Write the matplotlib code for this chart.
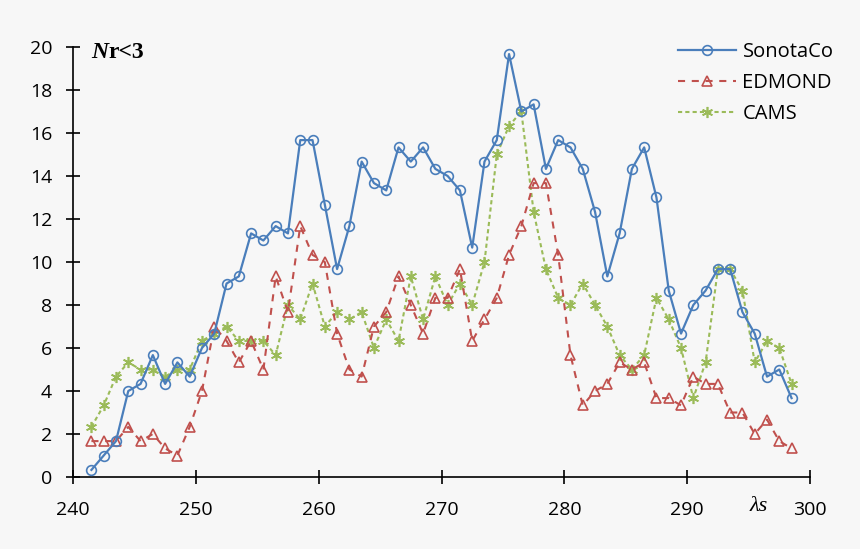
import numpy as np
import matplotlib.pyplot as plt


# solar longitude (centre of each 1 degree bin)
lam = np.arange(241.5, 299, 1.0)

sonotaco = [0.33, 1.0, 1.67, 4.0, 4.33, 5.67, 4.33, 5.33, 4.67, 6.0,
            6.67, 9.0, 9.33, 11.33, 11.0, 11.67, 11.33, 15.67, 15.67, 12.67,
            9.67, 11.67, 14.67, 13.67, 13.33, 15.33, 14.67, 15.33, 14.33, 14.0,
            13.33, 10.67, 14.67, 15.67, 19.67, 17.0, 17.33, 14.33, 15.67, 15.33,
            14.33, 12.33, 9.33, 11.33, 14.33, 15.33, 13.0, 8.67, 6.67, 8.0,
            8.67, 9.67, 9.67, 7.67, 6.67, 4.67, 5.0, 3.67]

edmond = [1.67, 1.67, 1.67, 2.33, 1.67, 2.0, 1.33, 1.0, 2.33, 4.0,
          7.0, 6.33, 5.33, 6.33, 5.0, 9.33, 7.67, 11.67, 10.33, 10.0,
          6.67, 5.0, 4.67, 7.0, 7.67, 9.33, 8.0, 6.67, 8.33, 8.33,
          9.67, 6.33, 7.33, 8.33, 10.33, 11.67, 13.67, 13.67, 10.33, 5.67,
          3.33, 4.0, 4.33, 5.33, 5.0, 5.33, 3.67, 3.67, 3.33, 4.67,
          4.33, 4.33, 3.0, 3.0, 2.0, 2.67, 1.67, 1.33]

cams = [2.33, 3.33, 4.67, 5.33, 5.0, 5.0, 4.67, 5.0, 5.0, 6.33,
        6.67, 7.0, 6.33, 6.33, 6.33, 5.67, 8.0, 7.33, 9.0, 7.0,
        7.67, 7.33, 7.67, 6.0, 7.33, 6.33, 9.33, 7.33, 9.33, 8.0,
        9.0, 8.0, 10.0, 15.0, 16.33, 17.0, 12.33, 9.67, 8.33, 8.0,
        9.0, 8.0, 7.0, 5.67, 5.0, 5.67, 8.33, 7.33, 6.0, 3.67,
        5.33, 9.67, 9.67, 8.67, 5.33, 6.33, 6.0, 4.33]

xticks = [240, 250, 260, 270, 280, 290, 300]
yticks = [0, 2, 4, 6, 8, 10, 12, 14, 16, 18, 20]

bg = '#f7f7f7'
fig = plt.figure(figsize=(8.6, 5.49), dpi=100, facecolor=bg)
ax = fig.add_axes([73/860, 1 - 477/549, (810 - 73)/860, (477 - 47)/549])
ax.set_facecolor(bg)

ax.plot(lam, sonotaco, color='#4a7ebb', lw=1.6, marker='o', ms=7, mfc='none',
        mew=1.2, label='SonotaCo', clip_on=False, zorder=4)
ax.plot(lam, edmond, color='#c0504d', lw=1.5, ls=(0, (3.4, 3.2)), marker='^',
        ms=7, mfc='none', mew=1.2, label='EDMOND', clip_on=False, zorder=3)
ax.plot(lam, cams, color='#9bbb59', lw=1.5, ls=(0, (2.0, 1.5)), marker=(6, 2, 0),
        ms=8, mew=1.2, label='CAMS', clip_on=False, zorder=2)

ax.set_xlim(240, 300)
ax.set_ylim(0, 20)
ax.set_xticks(xticks)
ax.set_yticks(yticks)

for s in ['top', 'right']:
    ax.spines[s].set_visible(False)
for s in ['left', 'bottom']:
    ax.spines[s].set_linewidth(1.2)

ax.tick_params(direction='inout', length=10, width=1.2, colors='black')
ax.tick_params(axis='x', pad=12)
ax.tick_params(axis='y', pad=10)
for lab in ax.get_xticklabels() + ax.get_yticklabels():
    lab.set_fontfamily('Open Sans')
    lab.set_fontsize(14)

# axis titles inside the plot, like the original
t = ax.text(91/860, 1 - 58/549, 'N', transform=fig.transFigure,
            family='Liberation Serif', weight='bold', style='italic', fontsize=17)
ax.annotate('r<3', xy=(1, 0), xycoords=t, family='Liberation Serif',
            weight='bold', fontsize=17, va='bottom')
ax.text(750/860, 1 - 511/549, 'λs', transform=fig.transFigure,
        family='Liberation Serif', style='italic', fontsize=16)

leg = ax.legend(loc='upper left', bbox_to_anchor=(678/860, 1 - 42/549),
                bbox_transform=fig.transFigure, frameon=False, borderpad=0,
                borderaxespad=0, handlelength=2.9, handletextpad=0.3,
                labelspacing=0.55, prop={'family': 'Open Sans', 'size': 14.5})

fig.savefig('out.png', dpi=100, facecolor=bg)
